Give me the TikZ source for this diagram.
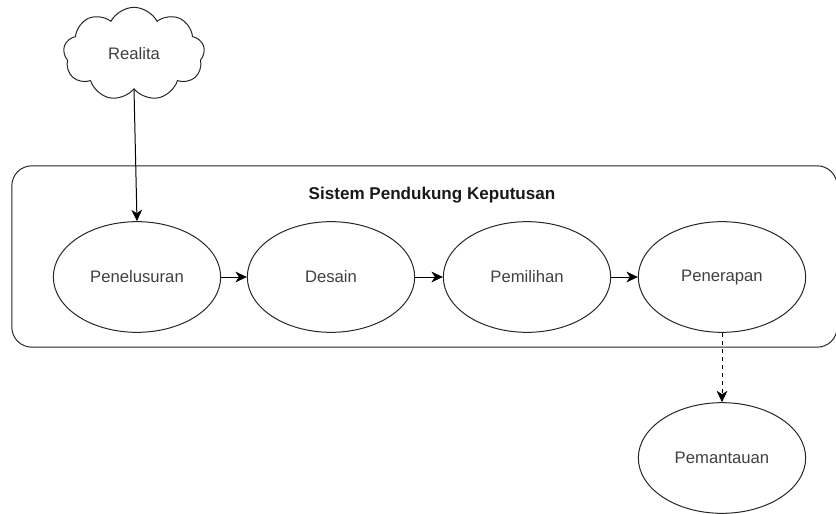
\documentclass[tikz,border=0pt]{standalone}
\usepackage{fontspec}
\setmainfont{Liberation Sans}
\usetikzlibrary{shapes.geometric,shapes.symbols,arrows.meta}
\begin{document}
\begin{tikzpicture}[x=0.75pt,y=-0.75pt,
  line width=0.75pt,
  stage/.style={draw=black!85, ellipse, minimum width=125.5pt, minimum height=83pt,
    inner sep=0pt, font=\fontsize{12.5pt}{15pt}\selectfont, text=black!75},
  flow/.style={draw=black, -{Stealth[length=8.5pt,width=8pt,inset=2.5pt]}},
]
\useasboundingbox (0,0) rectangle (836,514);
% system frame
\node[draw=black!85, rounded corners=15pt, inner sep=0pt,
  minimum width=619pt, minimum height=136pt] (frame) at (424.5,256.5) {};
\node[font=\bfseries\fontsize{12.8pt}{15pt}\selectfont, text=black!90] (title) at (432,195) {Sistem Pendukung Keputusan};
% source of reality
\node[draw=black!85, cloud, cloud puffs=9, cloud puff arc=125, aspect=1.5,
  minimum width=106pt, minimum height=70pt, inner sep=0pt,
  font=\fontsize{12.5pt}{15pt}\selectfont, text=black!75] (realita) at (134,54) {Realita};
% decision stages
\node[stage] (pen) at (137,277) {Penelusuran};
\node[stage] (des) at (331,277) {Desain};
\node[stage] (pem) at (527,277) {Pemilihan};
\node[stage] (ter) at (722,277) {Penerapan};
\node[stage] (mon) at (722,458) {Pemantauan};
% connectors
\draw[flow] (realita.south) -- (pen.north);
\draw[flow] (pen) -- (des);
\draw[flow] (des) -- (pem);
\draw[flow] (pem) -- (ter);
\draw[flow, dashed] (ter) -- (mon);
\end{tikzpicture}
\end{document}
